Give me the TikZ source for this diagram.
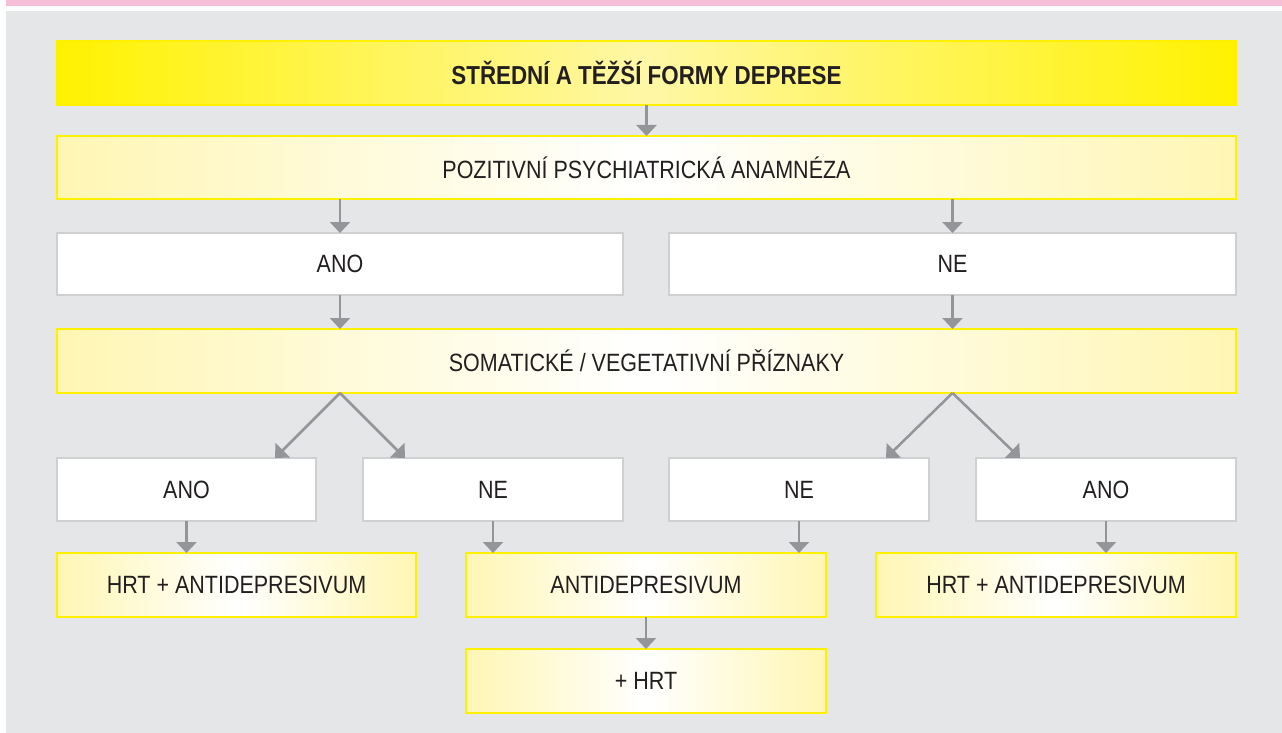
\documentclass[tikz,border=0pt]{standalone}
\usepackage{fontspec}
\setmainfont{Liberation Sans}[FakeStretch=0.86]
\usetikzlibrary{arrows.meta,calc}
\definecolor{panel}{HTML}{E5E6E8}
\definecolor{pinkbar}{HTML}{F6BFD7}
\definecolor{arr}{HTML}{939598}
\definecolor{gborder}{HTML}{CFD0D2}
\definecolor{ybord}{HTML}{FFF000}
\definecolor{ytop}{HTML}{FFF200}
\definecolor{ytopmid}{HTML}{FFF7A6}
\definecolor{ypale}{HTML}{FFF6B4}
\definecolor{ink}{HTML}{231F20}
\begin{document}
\begin{tikzpicture}[x=1pt,y=-1pt,
  every node/.style={text=ink,font=\fontsize{25}{30}\selectfont,inner sep=0pt,outer sep=0pt},
  topbox/.style={draw=ybord,line width=1.5pt,left color=ytop,right color=ytop,middle color=ytopmid,minimum height=64pt,font=\fontsize{26}{30}\selectfont\bfseries},
  ybox/.style={draw=ybord,line width=1.5pt,left color=ypale,right color=ypale,middle color=white},
  wbox/.style={draw=gborder,line width=1.5pt,fill=white},
  conn/.style={draw=arr,line width=2.5pt,-{Triangle[width=20pt,length=11pt]}}
]
\useasboundingbox (0,0) rectangle (1282,733);
\fill[pinkbar] (6,0) rectangle (1282,5.7);
\fill[panel] (6,11) rectangle (1282,733);

\node[topbox,minimum width=1179pt] (top) at (646.5,73) {STŘEDNÍ A TĚŽŠÍ FORMY DEPRESE};
\node[ybox,minimum width=1179pt,minimum height=63pt] (pos) at (646.5,167.5) {POZITIVNÍ PSYCHIATRICKÁ ANAMNÉZA};
\node[wbox,minimum width=566pt,minimum height=62pt] (ano1) at (340,264) {ANO};
\node[wbox,minimum width=567pt,minimum height=62pt] (ne1) at (952.5,264) {NE};
\node[ybox,minimum width=1179pt,minimum height=64pt] (som) at (646.5,361) {SOMATICKÉ / VEGETATIVNÍ PŘÍZNAKY};
\node[wbox,minimum width=259pt,minimum height=63pt] (a2) at (186.5,489.5) {ANO};
\node[wbox,minimum width=260pt,minimum height=63pt] (n2) at (493,489.5) {NE};
\node[wbox,minimum width=260pt,minimum height=63pt] (n3) at (799,489.5) {NE};
\node[wbox,minimum width=260pt,minimum height=63pt] (a3) at (1106,489.5) {ANO};
\node[ybox,minimum width=359pt,minimum height=64pt] (h1) at (236.5,585) {HRT + ANTIDEPRESIVUM};
\node[ybox,minimum width=360pt,minimum height=64pt] (ad) at (646,585) {ANTIDEPRESIVUM};
\node[ybox,minimum width=360pt,minimum height=64pt] (h2) at (1056,585) {HRT + ANTIDEPRESIVUM};
\node[ybox,minimum width=360pt,minimum height=64pt] (ph) at (646,681) {+ HRT};

\draw[conn] (top.south) -- (pos.north);
\draw[conn] (ano1.north |- pos.south) -- (ano1.north);
\draw[conn] (ne1.north |- pos.south) -- (ne1.north);
\draw[conn] (ano1.south) -- (ano1.south |- som.north);
\draw[conn] (ne1.south) -- (ne1.south |- som.north);
\draw[conn] (ano1.south |- som.south) -- ([xshift=-41pt]a2.north east);
\draw[conn] (ano1.south |- som.south) -- ([xshift=42pt]n2.north west);
\draw[conn] (ne1.south |- som.south) -- ([xshift=-43pt]n3.north east);
\draw[conn] (ne1.south |- som.south) -- ([xshift=44pt]a3.north west);
\draw[conn] (a2.south) -- (a2.south |- h1.north);
\draw[conn] (n2.south) -- (n2.south |- ad.north);
\draw[conn] (n3.south) -- (n3.south |- ad.north);
\draw[conn] (a3.south) -- (a3.south |- h2.north);
\draw[conn] (ad.south) -- (ph.north);
\end{tikzpicture}
\end{document}
